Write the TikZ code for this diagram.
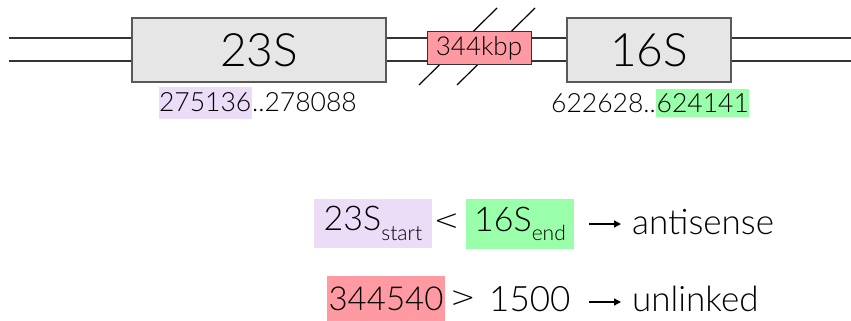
\documentclass[tikz,border=0pt]{standalone}
\usepackage{fontspec}
\IfFontExistsTF{Lato Light}{\setmainfont{Lato Light}}{\setmainfont{Lato}}
\newfontfamily\symfont{DejaVu Sans ExtraLight}
\usetikzlibrary{arrows.meta}
\definecolor{lav}{HTML}{EBDCF8}
\definecolor{mint}{HTML}{99FFAA}
\definecolor{rose}{HTML}{FF9AA3}
\definecolor{genefill}{HTML}{E6E6E6}
\definecolor{strand}{HTML}{333333}
\begin{document}
\begin{tikzpicture}[x=1pt,y=-1pt,
  gene/.style={draw=black!65, fill=genefill, line width=1.3pt, inner sep=0pt,
    font=\fontsize{46}{50}\selectfont},
  gap/.style={draw=black!80, fill=rose, line width=1pt, inner sep=0pt,
    minimum width=104pt, minimum height=33pt, font=\fontsize{26}{28}\selectfont},
  strandline/.style={draw=strand, line width=1.4pt},
  slash/.style={draw=black, line width=1.2pt},
  coord/.style={inner xsep=0.5pt, inner ysep=0pt, minimum height=32pt,
    font=\fontsize{26.5}{28}\selectfont},
  big/.style={inner xsep=0pt, inner ysep=0pt, font=\fontsize{35}{38}\selectfont},
  hl/.style={inner xsep=0pt, inner ysep=0pt},
  arr/.style={draw=black, line width=1.3pt, -{Triangle[length=7pt,width=7pt]}}
]
\useasboundingbox (0,0) rectangle (851,321);
% strands
\coordinate (L1) at (9,38);
\coordinate (L2) at (9,61);
\coordinate (R1) at (851,38);
\coordinate (R2) at (851,61);
\draw[strandline] (L1) -- (R1);
\draw[strandline] (L2) -- (R2);
% break slashes
\coordinate (s1a) at (419,85);
\coordinate (s1b) at (497,8);
\coordinate (s2a) at (457,85);
\coordinate (s2b) at (535,8);
\draw[slash] (s1a) -- (s1b);
\draw[slash] (s2a) -- (s2b);
% genes
\node[gene, minimum width=254pt, minimum height=64pt] (g23) at (259,50) {23S};
\node[gene, minimum width=164pt, minimum height=64pt] (g16) at (649,50) {16S};
\node[gap] (gapbox) at (479,48.5) {344kbp};
% coordinates
\node[coord, fill=lav, anchor=east] (c23a) at (252,102.5) {275136};
\node[coord, anchor=west, inner xsep=0pt] (c23b) at (c23a.east) {..278088};
\node[coord, fill=mint, anchor=west, minimum height=28pt] (c16b) at (656,103) {624141};
\node[coord, anchor=east, inner xsep=0pt] (c16a) at (c16b.west) {622628..};
% rule 1
\node[hl, fill=lav, minimum width=118pt, minimum height=49pt] (r1a) at (373,223.5)
  {\fontsize{34}{36}\selectfont 23S\raisebox{-0.28em}{\fontsize{21}{22}\selectfont start}};
\node[inner sep=0pt, font=\symfont\fontsize{30}{34}\selectfont] (r1lt) at (446.5,222) {<};
\node[hl, fill=mint, minimum width=108pt, minimum height=50pt] (r1b) at (520,224)
  {\fontsize{34}{36}\selectfont 16S\raisebox{-0.28em}{\fontsize{21}{22}\selectfont end}};
\coordinate (a1s) at (589,224);
\coordinate (a1e) at (621,224);
\draw[arr] (a1s) -- (a1e);
\node[big, anchor=west] (r1c) at (632,222) {antisense};
% rule 2
\node[hl, fill=rose, minimum width=118pt, minimum height=45pt] (r2a) at (386,298.5)
  {\fontsize{33}{36}\selectfont 344540};
\node[inner sep=0pt, font=\symfont\fontsize{30}{34}\selectfont] (r2gt) at (463,299) {>};
\node[big, anchor=west] (r2b) at (489,299) {1500};
\coordinate (a2s) at (589,302);
\coordinate (a2e) at (621,302);
\draw[arr] (a2s) -- (a2e);
\node[big, anchor=west] (r2c) at (632,299) {unlinked};
\end{tikzpicture}
\end{document}
